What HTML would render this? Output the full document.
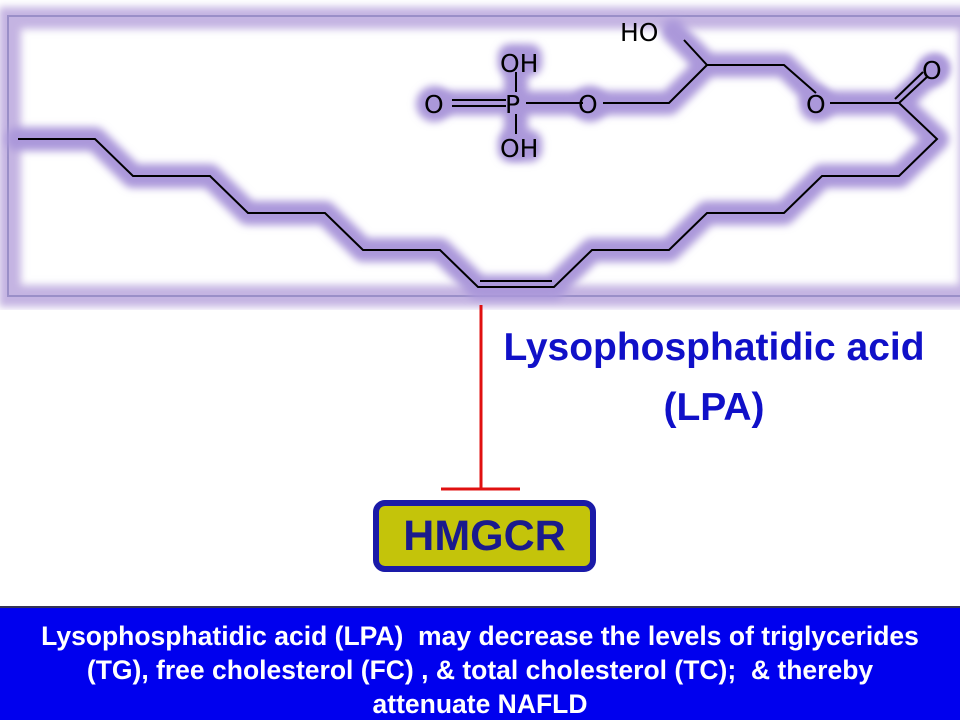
<!DOCTYPE html>
<html><head><style>
body{margin:0;width:960px;height:720px;overflow:hidden;background:#fff;position:relative;font-family:"Liberation Sans",sans-serif}
.lab{position:absolute;left:464px;width:500px;text-align:center;color:#1010c8;font-weight:bold;font-size:39px;line-height:60px;top:318px}
.hm{position:absolute;left:373px;top:500px;width:211px;height:60px;background:#c4c40a;border:6px solid #1a1aa8;border-radius:12px;text-align:center;color:#1a1a8c;font-weight:bold;font-size:43px;line-height:60px}
.bot{position:absolute;left:0;top:606px;width:960px;height:114px;background:#0000ee;border-top:2px solid #335;color:#fff;font-weight:bold;font-size:26.5px;line-height:34px;text-align:center;padding-top:11px;box-sizing:border-box;white-space:nowrap}
</style></head><body>
<svg width="960" height="310" style="position:absolute;left:0;top:0">
<defs><filter id="g" filterUnits="userSpaceOnUse" x="-20" y="-20" width="1000" height="340"><feGaussianBlur stdDeviation="4"/></filter></defs>
<rect x="10" y="18" width="960" height="278" fill="none" stroke="#c4b4e2" stroke-width="22" filter="url(#g)"/>
<rect x="8" y="16" width="960" height="280" fill="none" stroke="#9a8fc8" stroke-width="2"/>
<g fill="none" stroke="#ab98da" stroke-width="24" stroke-linejoin="round" stroke-linecap="round" filter="url(#g)">
<polyline points="18,139 95,139 133,176 210,176 248,213 325,213 363,250 440,250 478,287 554,287 592,250 669,250 707,213 784,213 822,176 899,176 937,139 899,103 937,67"/>
<polyline points="899,103 822,103 784,65 707,65 673,31 707,65 669,103 593,103 516,103 440,103"/>
<line x1="516" y1="62" x2="516" y2="147"/>
</g>
<g fill="#ab98da" filter="url(#g)">
<rect x="498" y="44" width="44" height="32" rx="12"/><rect x="498" y="130" width="44" height="32" rx="12"/>
<circle cx="434" cy="104" r="18"/><circle cx="590" cy="104" r="18"/><circle cx="817" cy="104" r="18"/><circle cx="933" cy="70" r="16"/>
</g>
<g fill="none" stroke="#000" stroke-width="2">
<polyline points="18,139 95,139 133,176 210,176 248,213 325,213 363,250 440,250 478,287 554,287 592,250 669,250 707,213 784,213 822,176 899,176 937,139 899,103"/>
<line x1="480" y1="281" x2="552" y2="281"/>
<line x1="899" y1="103" x2="928" y2="76"/><line x1="895" y1="99" x2="923" y2="72"/>
<polyline points="899,103 830,103"/>
<polyline points="816,93 784,65 707,65 684,40"/>
<polyline points="707,65 669,103 603,103"/>
<line x1="583" y1="103" x2="526" y2="103"/>
<line x1="506" y1="100" x2="452" y2="100"/><line x1="506" y1="106" x2="452" y2="106"/>
<line x1="516" y1="72" x2="516" y2="92"/><line x1="516" y1="114" x2="516" y2="134"/>
</g>
<g font-family="DejaVu Sans,sans-serif" font-size="25" fill="#000">
<text x="620" y="41">HO</text>
<text x="922" y="79">O</text>
<text x="806" y="113">O</text>
<text x="578" y="113">O</text>
<text x="505" y="113">P</text>
<text x="424" y="113">O</text>
<text x="500" y="72">OH</text>
<text x="500" y="157">OH</text>
</g>
</svg>
<svg width="960" height="720" style="position:absolute;left:0;top:0"><line x1="481" y1="305" x2="481" y2="490" stroke="#e01010" stroke-width="3"/><line x1="441" y1="489" x2="520" y2="489" stroke="#e01010" stroke-width="3"/></svg>
<div class="lab">Lysophosphatidic acid<br>(LPA)</div>
<div class="hm">HMGCR</div>
<div class="bot">Lysophosphatidic acid (LPA)&nbsp; may decrease the levels of triglycerides<br>(TG), free cholesterol (FC) , &amp; total cholesterol (TC);&nbsp; &amp; thereby<br>attenuate NAFLD</div>
</body></html>
